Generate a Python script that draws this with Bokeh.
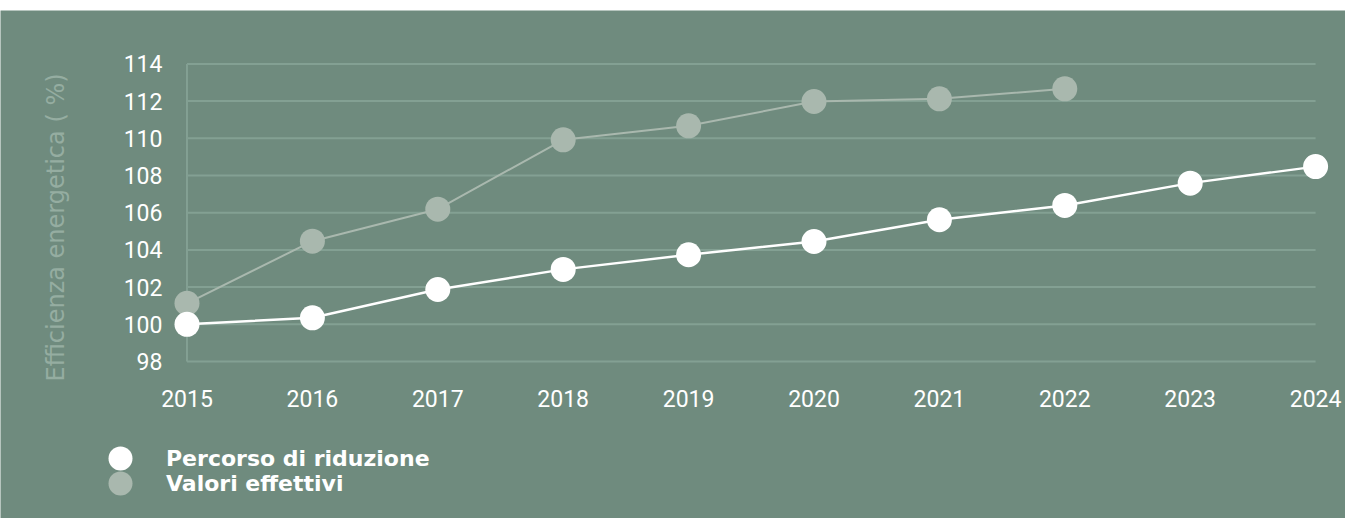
from bokeh.plotting import figure
from bokeh.models import FixedTicker, Legend, LegendItem, ColumnDataSource, Range1d
from bokeh.embed import file_html
from bokeh.resources import INLINE

# ---- data ----
years = [2015, 2016, 2017, 2018, 2019, 2020, 2021, 2022, 2023, 2024]
percorso = [100.0, 100.35, 101.87, 102.95, 103.74, 104.45, 105.62, 106.39, 107.59, 108.48]
eff_years = [2015, 2016, 2017, 2018, 2019, 2020, 2021, 2022]
effettivi = [101.13, 104.47, 106.19, 109.92, 110.67, 111.98, 112.12, 112.66]
y_ticks = [98, 100, 102, 104, 106, 108, 110, 112, 114]
y_title = "Efficienza energetica ( %)"
label_percorso = "Percorso di riduzione"
label_effettivi = "Valori effettivi"

# ---- style ----
BG = "#6f8b7e"
GRID = "#83a093"
GRAY = "#a9b8ae"
WHITE = "#ffffff"
TITLE_C = "#95ada1"

p = figure(width=1345, height=518, output_backend="svg", toolbar_location=None,
           x_range=Range1d(2013.5128, 2024.2385), y_range=Range1d(89.559, 116.871),
           min_border_left=0, min_border_right=0, min_border_top=10,
           min_border_bottom=0)
p.background_fill_color = BG
p.border_fill_color = WHITE
p.outline_line_color = None
p.outline_line_alpha = 0
p.xgrid.grid_line_color = None
p.ygrid.grid_line_color = None

# grid lines limited to the data span
grid_src = ColumnDataSource(dict(x0=[years[0]] * len(y_ticks), x1=[years[-1]] * len(y_ticks),
                                 y=y_ticks))
p.segment(x0="x0", y0="y", x1="x1", y1="y", source=grid_src, line_color=GRID, line_width=2)
p.segment(x0=[years[0]], y0=[y_ticks[0]], x1=[years[0]], y1=[y_ticks[-1]],
          line_color=GRID, line_width=2)

# series
eff_src = ColumnDataSource(dict(x=eff_years, y=effettivi))
per_src = ColumnDataSource(dict(x=years, y=percorso))
p.line("x", "y", source=eff_src, line_color=GRAY, line_width=2)
r_eff = p.scatter("x", "y", source=eff_src, size=25, fill_color=GRAY, line_color=None)
p.line("x", "y", source=per_src, line_color=WHITE, line_width=2.4)
r_per = p.scatter("x", "y", source=per_src, size=25, fill_color=WHITE, line_color=None)

# axes (drawn inside the full-canvas frame at fixed locations)
for ax in (p.xaxis[0], p.yaxis[0]):
    ax.axis_line_color = None
    ax.major_tick_line_color = None
    ax.minor_tick_line_color = None
    ax.major_tick_out = 0
    ax.major_tick_in = 0
    ax.minor_tick_out = 0
    ax.minor_tick_in = 0
    ax.major_label_text_color = WHITE
    ax.major_label_text_font = "Roboto"
    ax.major_label_text_font_size = "23px"

p.xaxis.ticker = FixedTicker(ticks=years)
p.xaxis.fixed_location = 97.73
p.xaxis.major_label_standoff = 23
p.yaxis.ticker = FixedTicker(ticks=y_ticks)
p.yaxis.fixed_location = 2014.892
p.yaxis.bounds = (96.4, 114)
p.yaxis.major_label_standoff = 11
p.yaxis.axis_label = y_title
p.yaxis.axis_label_text_font = "DejaVu Sans ExtraLight, DejaVu Sans"
p.yaxis.axis_label_text_font_style = "normal"
p.yaxis.axis_label_text_font_size = "24px"
p.yaxis.axis_label_text_color = TITLE_C
p.yaxis.axis_label_standoff = 51


def make_legend(label, renderer, offset_y):
    return Legend(items=[LegendItem(label=label, renderers=[renderer])],
                  location=(90, offset_y), orientation="vertical",
                  glyph_width=60, glyph_height=60, label_standoff=16,
                  padding=0, margin=0, border_line_color=None, background_fill_alpha=0,
                  label_text_font="DejaVu Sans", label_text_font_style="bold",
                  label_text_font_size="22px", label_text_color=WHITE)


p.add_layout(make_legend(label_percorso, r_per, 30), "center")
p.add_layout(make_legend(label_effettivi, r_eff, 5), "center")

open("out.html", "w").write(file_html(p, INLINE))
